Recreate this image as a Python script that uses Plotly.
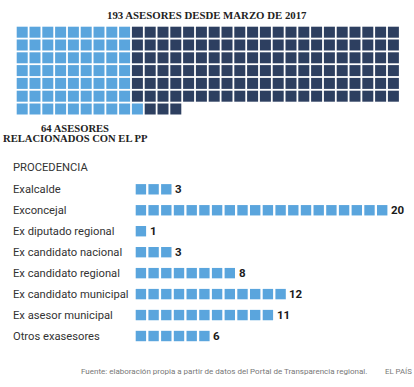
import math
import plotly.graph_objects as go

# ---- data ----
total_asesores = 193
asesores_pp = 64
waffle_columns = 30

categories = ["Exalcalde", "Exconcejal", "Ex diputado regional", "Ex candidato nacional",
              "Ex candidato regional", "Ex candidato municipal", "Ex asesor municipal",
              "Otros exasesores"]
counts = [3, 20, 1, 3, 8, 12, 11, 6]

title_text = "193 ASESORES DESDE MARZO DE 2017"
pp_line1 = "64 ASESORES"
pp_line2 = "RELACIONADOS CON EL PP"
section_title = "PROCEDENCIA"
source_text = "Fuente: elaboración propia a partir de datos del Portal de Transparencia regional."
brand_text = "EL PAÍS"

LIGHT = "#5AA5DD"
DARK = "#2D3F60"
TEXT = "#333333"

# ---- waffle positions (derived from counts) ----
n_rows = math.ceil(total_asesores / waffle_columns)
light_per_row = asesores_pp // n_rows
light_extra = asesores_pp - light_per_row * n_rows
wx_l, wy_l, wx_d, wy_d = [], [], [], []
for r in range(n_rows):
    n_in_row = min(waffle_columns, total_asesores - waffle_columns * r)
    n_light = light_per_row + (1 if r >= n_rows - light_extra else 0)
    for c in range(n_in_row):
        if c < n_light:
            wx_l.append(c); wy_l.append(r)
        else:
            wx_d.append(c); wy_d.append(r)

# ---- bar-squares positions ----
bx, by = [], []
for i, n in enumerate(counts):
    for k in range(1, n + 1):
        bx.append(k); by.append(i)

W, H = 414, 387
# waffle scale
wp = 12.8
wx0, wy0 = 22.2, 32.2
# bars scale
bp = 12.7
bx0 = 140.9
rp = 20.96
ry0 = 189.3

fig = go.Figure()
fig.add_trace(go.Scatter(x=wx_l, y=wy_l, mode="markers", xaxis="x", yaxis="y",
                         marker=dict(symbol="square", size=11, color=LIGHT, line=dict(width=0)),
                         hoverinfo="skip"))
fig.add_trace(go.Scatter(x=wx_d, y=wy_d, mode="markers", xaxis="x", yaxis="y",
                         marker=dict(symbol="square", size=11, color=DARK, line=dict(width=0)),
                         hoverinfo="skip"))
fig.add_trace(go.Scatter(x=bx, y=by, mode="markers", xaxis="x2", yaxis="y2",
                         marker=dict(symbol="square", size=10.4, color=LIGHT, line=dict(width=0)),
                         hoverinfo="skip"))

ax_common = dict(visible=False, showgrid=False, zeroline=False, fixedrange=True)

annotations = []
annotations.append(dict(text="<b>%s</b>" % title_text, x=207 / W, y=1 - 15 / H, xref="paper", yref="paper",
                        xanchor="center", yanchor="middle", showarrow=False,
                        font=dict(family="Liberation Serif", size=10.8, color="#222222"),
                        ))
annotations.append(dict(text="<b>%s</b>" % pp_line1, x=75 / W, y=1 - 128 / H, xref="paper", yref="paper",
                        xanchor="center", yanchor="middle", showarrow=False,
                        font=dict(family="Liberation Serif", size=10.6, color="#222222")))
annotations.append(dict(text="<b>%s</b>" % pp_line2, x=75 / W, y=1 - 138 / H, xref="paper", yref="paper",
                        xanchor="center", yanchor="middle", showarrow=False,
                        font=dict(family="Liberation Serif", size=10.6, color="#222222")))
annotations.append(dict(text=section_title, x=12 / W, y=1 - 167.5 / H, xref="paper", yref="paper",
                        xanchor="left", yanchor="middle", showarrow=False,
                        font=dict(family="Roboto", size=11.2, color=TEXT)))
for i, (cat, n) in enumerate(zip(categories, counts)):
    annotations.append(dict(text=cat, x=12 / W, y=i, xref="paper", yref="y2",
                            xanchor="left", yanchor="middle", showarrow=False,
                            font=dict(family="Roboto", size=11.2, color=TEXT)))
    annotations.append(dict(text="<b>%d</b>" % n, x=n + 0.62, y=i, xref="x2", yref="y2",
                            xanchor="left", yanchor="middle", showarrow=False,
                            font=dict(family="Roboto", size=11.5, color="#1a1a1a")))
annotations.append(dict(text=source_text, x=368 / W, y=1 - 371 / H, xref="paper", yref="paper",
                        xanchor="right", yanchor="middle", showarrow=False,
                        font=dict(family="Roboto", size=8.0, color="#777777")))
annotations.append(dict(text=brand_text, x=413 / W, y=1 - 371 / H, xref="paper", yref="paper",
                        xanchor="right", yanchor="middle", showarrow=False,
                        font=dict(family="Roboto", size=7.8, color="#777777")))
for a in annotations:
    a["borderpad"] = 0

fig.update_layout(
    width=W, height=H, autosize=False,
    margin=dict(l=0, r=0, t=0, b=0, pad=0),
    paper_bgcolor="white", plot_bgcolor="rgba(0,0,0,0)",
    showlegend=False,
    xaxis=dict(domain=[0, 1], range=[-wx0 / wp, (W - wx0) / wp], anchor="y", **ax_common),
    yaxis=dict(domain=[0, 1], range=[(H - wy0) / wp, -wy0 / wp], anchor="x", **ax_common),
    xaxis2=dict(domain=[0, 1], range=[1 - bx0 / bp, 1 + (W - bx0) / bp], anchor="y2", **ax_common),
    yaxis2=dict(domain=[0, 1], range=[(H - ry0) / rp, -ry0 / rp], anchor="x2", **ax_common),
    annotations=annotations,
)

fig.write_html("out.html", config={"displayModeBar": False},
               post_script="document.body.style.margin='0px';document.body.style.overflow='hidden';")
